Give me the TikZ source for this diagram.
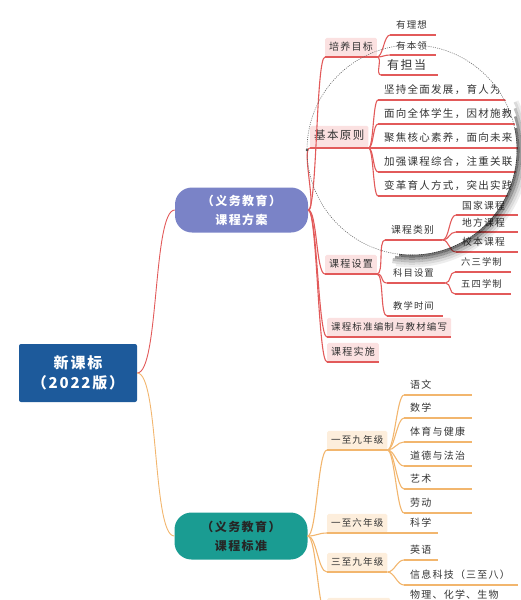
\documentclass[tikz,border=0pt]{standalone}
\usepackage{fontspec}
\setmainfont{Noto Sans CJK SC}[LetterSpace=12]
\definecolor{rootblue}{HTML}{1D5A9B}
\definecolor{lav}{HTML}{7A83C7}
\definecolor{tealc}{HTML}{1A9C92}
\definecolor{redl}{HTML}{E25A5A}
\definecolor{pinkf}{HTML}{FBE1E1}
\definecolor{orgl}{HTML}{F2B66E}
\definecolor{orgf}{HTML}{FDEEDC}
\definecolor{txt}{HTML}{333333}
\newcommand\fsz[1]{\fontsize{#1pt}{#1pt}\selectfont}
\tikzset{
 conR/.style={draw=redl, line width=1.1pt},
 conO/.style={draw=orgl, line width=1.1pt},
 leaf/.style={anchor=south west, inner xsep=6pt, inner ysep=4pt, text height=7.5pt, text depth=2pt, text=txt, align=left, font=\fsz{10}},
 rbox/.style={anchor=south west, fill=pinkf, text=txt, inner xsep=4pt, inner ysep=2pt, minimum height=19pt, text height=8pt, text depth=2pt, rounded corners=1.5pt, font=\fsz{10}},
 obox/.style={rbox, fill=orgf, font=\fsz{9.5}},
 topic/.style={minimum width=133pt, minimum height=45pt, rounded corners=17pt, align=center, font=\bfseries\fontsize{12pt}{19pt}\selectfont},
 rootbox/.style={fill=rootblue, text=white, minimum width=118pt, minimum height=58pt, rounded corners=2pt, align=center, font=\bfseries\fontsize{15pt}{20pt}\selectfont},
}
\begin{document}
\begin{tikzpicture}[x=1pt,y=-1pt]
\useasboundingbox (0,0) rectangle (521,600);

% main nodes
\node[rootbox] (root) at (78,373) {新课标\\（2022版）};
\node[topic, fill=lav, text=white] (kc) at (241.5,210) {（义务教育）\\课程方案};
\node[topic, fill=tealc, text=black!85, minimum height=47pt] (tb) at (241,536) {（义务教育）\\课程标准};

\draw[conR, line width=0.9pt] (root.east) .. controls +(22,0) and +(-22,0) .. (kc.west);
\draw[conO, line width=0.9pt] (root.east) .. controls +(22,0) and +(-22,0) .. (tb.west);

% ---------- red side: boxes
\node[rbox] (pymb) at (325,57) {培养目标};
\node[rbox, font=\fsz{11.5}, minimum height=22pt] (jbyz) at (310,148) {基本原则};
\node[rbox] (kcsz) at (325,274) {课程设置};
\node[rbox, font=\fsz{9.5}] (bzbx) at (327,337) {课程标准编制与教材编写};
\node[rbox] (kcss) at (327,362) {课程实施};

% red leaves
\node[leaf, font=\fsz{9.5}, text width=34pt] (lx) at (390,35) {有理想};
\node[leaf, font=\fsz{9.5}, text width=34pt, inner ysep=3pt] (bl) at (390,55) {有本领};
\node[leaf, font=\fsz{12}, text width=45pt, inner ysep=3pt] (dd) at (381,75) {有担当};

\node[leaf, font=\fsz{9.8}, text width=45pt] (lb) at (385,240) {课程类别};
\node[leaf, font=\fsz{9.8}, text width=50pt, inner ysep=3pt] (gj) at (456,215) {国家课程};
\node[leaf, font=\fsz{9.8}, text width=50pt, inner ysep=3pt] (df) at (456,232) {地方课程};
\node[leaf, font=\fsz{9.8}, text width=50pt] (xb) at (456,252) {校本课程};
\node[leaf, font=\fsz{9.3}, text width=46pt] (km) at (387,283) {科目设置};
\node[leaf, font=\fsz{9.3}, text width=44pt] (ls) at (455,272) {六三学制};
\node[leaf, font=\fsz{9.3}, text width=44pt] (ws) at (455,294) {五四学制};
\node[leaf, font=\fsz{9.3}, text width=44pt] (jx) at (387,316) {教学时间};

\begin{scope}
\clip (412,150) circle[radius=106pt];
\node[leaf, font=\fsz{10.5}, text width=135pt] (p1) at (378,100) {坚持全面发展，育人为本};
\node[leaf, font=\fsz{10.5}, text width=135pt] (p2) at (378,124) {面向全体学生，因材施教};
\node[leaf, font=\fsz{10.5}, text width=135pt] (p3) at (378,148) {聚焦核心素养，面向未来};
\node[leaf, font=\fsz{10.5}, text width=135pt] (p4) at (378,172) {加强课程综合，注重关联};
\node[leaf, font=\fsz{10.5}, text width=135pt] (p5) at (378,196) {变革育人方式，突出实践};
\foreach \n in {p1,p2,p3,p4,p5}
  \draw[conR] (\n.south west) -- (\n.south east);
\end{scope}

\foreach \n in {pymb,jbyz,kcsz,bzbx,kcss,lx,bl,dd,lb,gj,df,xb,km,ls,ws,jx}
  \draw[conR] (\n.south west) -- (\n.south east);

\foreach \n in {pymb,jbyz,kcsz,bzbx,kcss}
  \draw[conR] (kc.east) .. controls +(9,0) and +(-9,0) .. (\n.south west);
\foreach \n in {lx,bl,dd}
  \draw[conR] (pymb.south east) .. controls +(6,0) and +(-6,0) .. (\n.south west);
\foreach \n in {p1,p2,p3,p4,p5}
  \draw[conR] (jbyz.south east) .. controls +(5,0) and +(-5,0) .. (\n.south west);
\foreach \n in {lb,km,jx}
  \draw[conR] (kcsz.south east) .. controls +(7,0) and +(-7,0) .. (\n.south west);
\foreach \n in {gj,df,xb}
  \draw[conR] (lb.south east) .. controls +(7,0) and +(-7,0) .. (\n.south west);
\foreach \n in {ls,ws}
  \draw[conR] (km.south east) .. controls +(6,0) and +(-6,0) .. (\n.south west);

% ---------- orange side
\node[obox] (y19) at (327,450) {一至九年级};
\node[obox] (y16) at (327,533) {一至六年级};
\node[obox] (s39) at (327,572) {三至九年级};
\node[obox, minimum width=63pt] (q79) at (327,617) {};

\node[leaf, text width=56pt] (yw) at (404,395) {语文};
\node[leaf, text width=56pt] (sx) at (404,418) {数学};
\node[leaf, text width=56pt] (ty) at (404,442) {体育与健康};
\node[leaf, text width=56pt] (dd2) at (404,466) {道德与法治};
\node[leaf, text width=56pt] (ys) at (404,489) {艺术};
\node[leaf, text width=56pt] (ld) at (404,513) {劳动};
\node[leaf, text width=22pt] (kx) at (404,533) {科学};
\node[leaf, text width=22pt] (yy) at (404,560) {英语};
\node[leaf, text width=102pt] (xx) at (404,585) {信息科技（三至八）};
\node[leaf, text width=90pt] (wl) at (404,605) {物理、化学、生物};

\foreach \n in {y19,y16,s39,q79,yw,sx,ty,dd2,ys,ld,kx,yy,xx,wl}
  \draw[conO] (\n.south west) -- (\n.south east);
\foreach \n in {y19,y16,s39,q79}
  \draw[conO] (tb.east) .. controls +(9,0) and +(-9,0) .. (\n.south west);
\foreach \n in {yw,sx,ty,dd2,ys,ld}
  \draw[conO] (y19.south east) .. controls +(7,0) and +(-7,0) .. (\n.south west);
\draw[conO] (y16.south east) -- (kx.south west);
\foreach \n in {yy,xx}
  \draw[conO] (s39.south east) .. controls +(7,0) and +(-7,0) .. (\n.south west);
\draw[conO] (q79.south east) .. controls +(7,0) and +(-7,0) .. (wl.south west);

% ---------- magnifier lens
\draw[black!60, line width=0.6pt, dash pattern=on 1pt off 1.2pt] (412,150) circle[radius=105pt];
\fill[black!70] (307,150) circle[radius=1.3pt];
\foreach \r/\o/\a/\b in {106/0.55/-12/97, 108.5/0.4/-18/99, 111/0.25/-22/100, 113.5/0.14/-25/100, 116/0.07/-25/98}
  \draw[line width=2.6pt, black, opacity=\o] plot[domain=\a:\b, samples=70, smooth] ({412+\r*cos(\x)},{150+\r*sin(\x)});
\end{tikzpicture}
\end{document}
